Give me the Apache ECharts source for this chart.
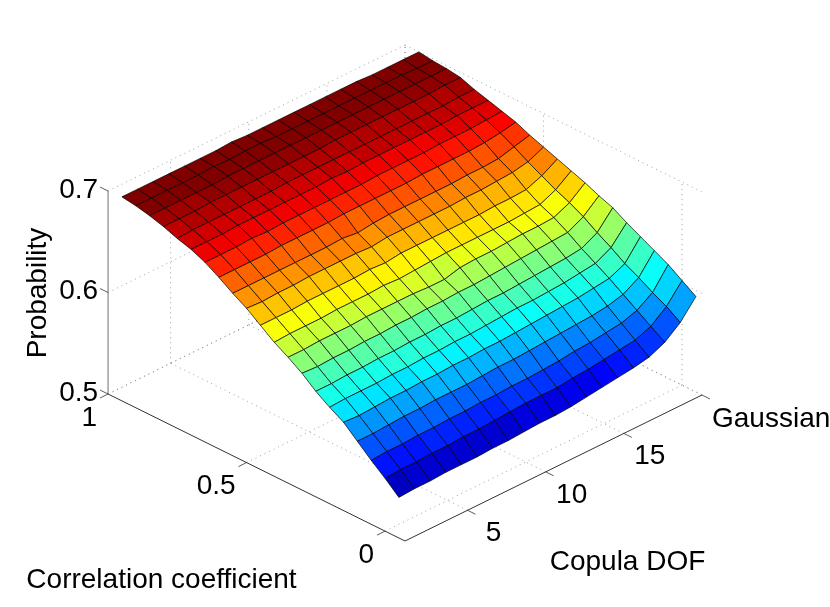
<!DOCTYPE html>
<html lang="en">
<head>
    <meta charset="UTF-8">
    <title>Probability surface</title>
    <script src="https://cdn.jsdelivr.net/npm/echarts@6/dist/echarts.min.js"></script>
    <style>html,body{margin:0;padding:0;background:#fff}</style>
</head>
<body>
    <div id="main" style="width: 830px;height:607px;"></div>
<script>
  // axes
  const dofValues = [1,2,3,4,5,6,7,8,9,10,11,12,13,14,15,16,17,18,19,20]
  const rhoValues = [-0.05,0,0.05,0.1,0.15,0.2,0.25,0.3,0.35,0.4,0.45,0.5,0.55,0.6,0.65,0.7,0.75,0.8,0.85,0.9,0.95]
  const dofTicks = [5,10,15,20]
  const dofTickLabels = ['5','10','15','Gaussian']
  const rhoTicks = [0,0.5,1]
  const rhoTickLabels = ['0','0.5','1']
  const probTicks = [0.5,0.6,0.7]
  const probTickLabels = ['0.5','0.6','0.7']

  // probability, one row per rho value, one column per dof value
  const probability = [
    [.540,.541,.541,.542,.542,.542,.543,.543,.544,.545,.545,.546,.548,.550,.552,.554,.557,.564,.576,.594],
    [.552,.553,.553,.554,.554,.555,.555,.556,.557,.558,.558,.558,.560,.561,.563,.565,.567,.573,.585,.603],
    [.563,.564,.564,.565,.565,.566,.566,.567,.567,.568,.568,.569,.570,.572,.573,.575,.577,.582,.592,.612],
    [.575,.575,.576,.577,.577,.578,.578,.578,.579,.580,.580,.581,.582,.583,.584,.585,.587,.591,.600,.619],
    [.587,.586,.587,.588,.588,.589,.589,.590,.590,.591,.591,.592,.593,.594,.595,.596,.598,.600,.607,.626],
    [.595,.596,.596,.596,.597,.597,.598,.598,.599,.599,.600,.601,.602,.602,.603,.604,.606,.608,.616,.633],
    [.604,.604,.605,.605,.606,.606,.607,.607,.608,.608,.609,.610,.610,.611,.612,.613,.614,.616,.624,.641],
    [.615,.614,.615,.615,.616,.616,.617,.617,.618,.618,.619,.619,.620,.621,.622,.623,.624,.625,.633,.646],
    [.624,.624,.625,.625,.625,.626,.626,.626,.626,.625,.625,.629,.630,.630,.631,.632,.632,.633,.640,.652],
    [.632,.633,.633,.633,.634,.634,.634,.635,.634,.635,.636,.637,.637,.637,.637,.637,.638,.639,.646,.657],
    [.642,.642,.642,.643,.643,.643,.643,.644,.643,.645,.645,.645,.645,.645,.645,.646,.646,.647,.653,.662],
    [.652,.651,.652,.652,.653,.653,.653,.653,.652,.654,.654,.654,.654,.654,.655,.655,.656,.657,.660,.667],
    [.660,.660,.660,.660,.660,.660,.660,.661,.659,.661,.662,.662,.662,.662,.662,.663,.663,.664,.668,.672],
    [.669,.669,.669,.669,.670,.670,.670,.670,.671,.671,.671,.671,.671,.672,.672,.672,.672,.673,.675,.678],
    [.677,.677,.677,.678,.677,.678,.678,.678,.678,.678,.678,.679,.679,.679,.679,.680,.680,.680,.681,.682],
    [.683,.683,.683,.684,.684,.684,.684,.684,.684,.685,.684,.685,.685,.685,.685,.685,.685,.686,.686,.686],
    [.687,.688,.688,.688,.688,.688,.688,.689,.689,.689,.689,.689,.689,.689,.689,.689,.689,.689,.690,.690],
    [.692,.692,.692,.693,.693,.693,.693,.693,.693,.693,.693,.694,.694,.694,.694,.694,.694,.694,.695,.695],
    [.696,.696,.696,.696,.696,.697,.697,.697,.697,.697,.697,.697,.697,.697,.697,.697,.697,.697,.697,.697],
    [.699,.699,.699,.699,.699,.700,.699,.700,.700,.699,.699,.699,.699,.699,.699,.699,.699,.699,.698,.698],
    [.701,.701,.701,.701,.701,.701,.701,.702,.701,.701,.701,.701,.701,.701,.701,.701,.700,.700,.700,.700]
  ]

  const dofMin = 1, dofMax = 20, rhoMin = -0.072, rhoMax = 1, probMin = 0.5, probMax = 0.7
  const colorMin = 0.527, colorMax = 0.698
  const font = '"Liberation Sans", Arial, sans-serif'
  const fontSize = 28

  // fixed oblique view of the box, gives x/y on the hidden page axes
  function project(d, rho, p) {
    return [
      405 + (d - dofMin) * 297 / 19 - (rho - rhoMin) * 277,
      541 - (d - dofMin) * 146 / 19 - (rho - rhoMin) * 137.1 - (p - probMin) * 1015
    ]
  }

  // matlab jet, 64 levels
  function jet(v) {
    let t = (v - colorMin) / (colorMax - colorMin)
    t = Math.max(0, Math.min(63, Math.floor(t * 64))) / 63
    const ch = c => Math.round(255 * Math.max(0, Math.min(1, 1.5 - Math.abs(4 * t - c))))
    return `rgb(${ch(3)},${ch(2)},${ch(1)})`
  }

  const cells = []
  for (let i = rhoValues.length - 2; i >= 0; i--) {
    for (let j = dofValues.length - 2; j >= 0; j--) {
      cells.push([j, i])
    }
  }

  // dotted grid on floor and the two back walls
  const gridSegments = []
  dofTicks.forEach(d => {
    gridSegments.push([d, rhoMin, probMin, d, rhoMax, probMin])
    gridSegments.push([d, rhoMax, probMin, d, rhoMax, probMax])
  })
  rhoTicks.forEach(r => {
    gridSegments.push([dofMin, r, probMin, dofMax, r, probMin])
    gridSegments.push([dofMax, r, probMin, dofMax, r, probMax])
  })
  probTicks.forEach(p => {
    gridSegments.push([dofMin, rhoMax, p, dofMax, rhoMax, p])
    gridSegments.push([dofMax, rhoMax, p, dofMax, rhoMin, p])
  })

  // solid axis lines
  const axisSegments = [
    [dofMin, rhoMin, probMin, dofMin, rhoMax, probMin],
    [dofMin, rhoMin, probMin, dofMax, rhoMin, probMin]
  ]
  const zAxisSegments = [[dofMin, rhoMax, probMin, dofMin, rhoMax, probMax]]

  const tickMarks = []
  dofTicks.forEach(d => tickMarks.push({ at: [d, rhoMin, probMin], off: [8, 4] }))
  rhoTicks.forEach(r => tickMarks.push({ at: [dofMin, r, probMin], off: [-8, 4] }))
  probTicks.forEach(p => tickMarks.push({ at: [dofMin, rhoMax, p], off: [-8, -4] }))

  function segmentSeries(name, segments, lineStyle, z) {
    return {
      name, type: 'custom', coordinateSystem: 'cartesian2d', silent: true, z,
      data: segments.map((s, idx) => [idx]),
      renderItem(params, api) {
        const s = segments[params.dataIndex]
        const a = api.coord(project(s[0], s[1], s[2]))
        const b = api.coord(project(s[3], s[4], s[5]))
        return { type: 'line', shape: { x1: a[0], y1: a[1], x2: b[0], y2: b[1] }, style: lineStyle }
      }
    }
  }

  const labels = []
  dofTicks.forEach((d, k) => {
    const p = project(d, rhoMin, probMin)
    labels.push({ text: dofTickLabels[k], x: p[0] + (k === 3 ? 10 : 26), y: p[1] + (k === 3 ? 24 : 23), align: k === 3 ? 'left' : 'center' })
  })
  rhoTicks.forEach((r, k) => {
    const p = project(dofMin, r, probMin)
    labels.push({ text: rhoTickLabels[k], x: p[0] - 11, y: p[1] + 24, align: 'right' })
  })
  probTicks.forEach((v, k) => {
    const p = project(dofMin, rhoMax, v)
    labels.push({ text: probTickLabels[k], x: p[0] - 10, y: p[1] - 1, align: 'right' })
  })

  const myChart = echarts.init(document.getElementById('main'), null, { renderer: 'canvas' })

  const option = {
    animation: false,
    backgroundColor: '#fff',
    grid: { left: 0, right: 0, top: 0, bottom: 0 },
    xAxis: { type: 'value', min: 0, max: 830, show: false },
    yAxis: { type: 'value', min: 0, max: 607, inverse: true, show: false },
    series: [
      segmentSeries('grid', gridSegments, { stroke: '#777', lineWidth: 0.7, lineDash: [1, 4], fill: null }, 1),
      segmentSeries('axes', axisSegments, { stroke: '#333', lineWidth: 1, fill: null }, 2),
      segmentSeries('zaxis', zAxisSegments, { stroke: '#888', lineWidth: 1.2, fill: null }, 2),
      {
        name: 'ticks', type: 'custom', coordinateSystem: 'cartesian2d', silent: true, z: 2,
        data: tickMarks.map((t, idx) => [idx]),
        renderItem(params, api) {
          const t = tickMarks[params.dataIndex]
          const a = api.coord(project(t.at[0], t.at[1], t.at[2]))
          return {
            type: 'line',
            shape: { x1: a[0], y1: a[1], x2: a[0] + t.off[0], y2: a[1] + t.off[1] },
            style: { stroke: '#333', lineWidth: 0.8, fill: null }
          }
        }
      },
      {
        name: 'surface', type: 'custom', coordinateSystem: 'cartesian2d', silent: true, z: 3,
        data: cells,
        renderItem(params, api) {
          const j = api.value(0), i = api.value(1)
          const corners = [[i, j], [i, j + 1], [i + 1, j + 1], [i + 1, j]]
          const points = corners.map(c => api.coord(project(dofValues[c[1]], rhoValues[c[0]], probability[c[0]][c[1]])))
          return {
            type: 'polygon',
            shape: { points },
            style: { fill: jet(probability[i][j]), stroke: '#000', lineWidth: 0.7, lineJoin: 'round' }
          }
        }
      },
      {
        name: 'labels', type: 'custom', coordinateSystem: 'cartesian2d', silent: true, z: 4,
        data: labels.map((l, idx) => [idx]),
        renderItem(params, api) {
          const l = labels[params.dataIndex]
          const c = api.coord([l.x, l.y])
          return {
            type: 'text',
            style: { text: l.text, x: c[0], y: c[1], align: l.align, verticalAlign: 'middle', fill: '#000', font: `${fontSize}px ${font}` }
          }
        }
      }
    ],
    graphic: [
      { type: 'text', x: 161.5, y: 580, style: { text: 'Correlation coefficient', align: 'center', verticalAlign: 'middle', fill: '#000', font: `${fontSize}px ${font}` } },
      { type: 'text', x: 627.5, y: 562, style: { text: 'Copula DOF', align: 'center', verticalAlign: 'middle', fill: '#000', font: `${fontSize}px ${font}` } },
      { type: 'text', x: 38, y: 293, rotation: Math.PI / 2, style: { text: 'Probability', align: 'center', verticalAlign: 'middle', fill: '#000', font: `${fontSize}px ${font}` } }
    ]
  }

  myChart.setOption(option)
</script>
</body>
</html>
